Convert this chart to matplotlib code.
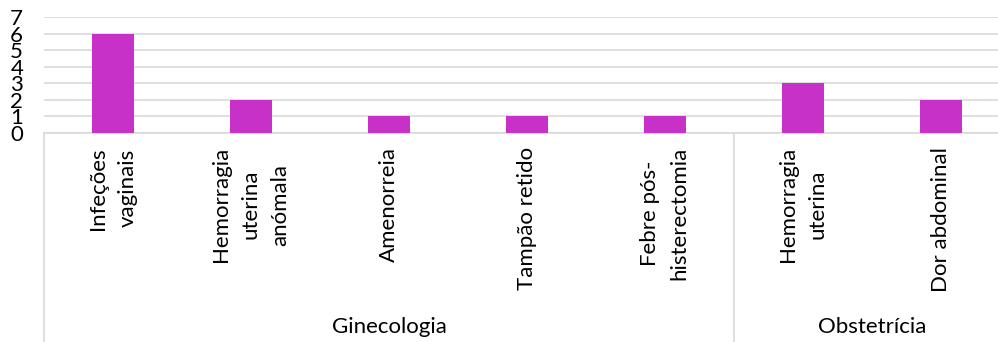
import matplotlib.pyplot as plt
import matplotlib.transforms as mtransforms
from matplotlib.lines import Line2D

categories = ['Infeções\nvaginais', 'Hemorragia\nuterina\nanómala', 'Amenorreia',
              'Tampão retido', 'Febre pós-\nhisterectomia', 'Hemorragia\nuterina',
              'Dor abdominal']
values = [6, 2, 1, 1, 1, 3, 2]
groups = ['Ginecologia', 'Obstetrícia']
group_sizes = [5, 2]

plt.rcParams['font.family'] = ['Lato', 'DejaVu Sans']

fig = plt.figure(figsize=(9.98, 3.42), dpi=100)
ax = fig.add_axes([44 / 998, 1 - 133 / 342, 966 / 998, 116 / 342])

x = list(range(len(categories)))
ax.bar(x, values, width=0.31, color='#C731C8', zorder=3)

ax.set_xlim(-0.5, len(categories) - 0.5)
ax.set_ylim(0, 7)
ax.set_yticks(range(8))
ax.tick_params(axis='y', length=0, pad=15, labelsize=16)
ax.yaxis.grid(True, color='#D9D9D9', linewidth=1.2, zorder=0)

ax.set_xticks(x)
ax.set_xticklabels(categories, rotation=90, ha='center', va='top',
                   multialignment='center', linespacing=1.6, fontsize=16)
ax.tick_params(axis='x', length=0, pad=10)

for s in ['top', 'right', 'left']:
    ax.spines[s].set_visible(False)
ax.spines['bottom'].set_color('#D9D9D9')
ax.spines['bottom'].set_linewidth(1.2)

trans = mtransforms.blended_transform_factory(ax.transData, fig.transFigure)
bottom_y = 1 - 133 / 342
start = -0.5
for g, n in zip(groups, group_sizes):
    fig.add_artist(Line2D([start, start], [0, bottom_y], transform=trans,
                          color='#D9D9D9', linewidth=1.2, clip_on=False))
    ax.text(start + n / 2, 15 / 342, g, transform=trans, ha='center',
            va='center', fontsize=16)
    start += n
fig.add_artist(Line2D([start, start], [0, bottom_y], transform=trans,
                      color='#D9D9D9', linewidth=1.2, clip_on=False))

fig.savefig('out.png', dpi=100)
